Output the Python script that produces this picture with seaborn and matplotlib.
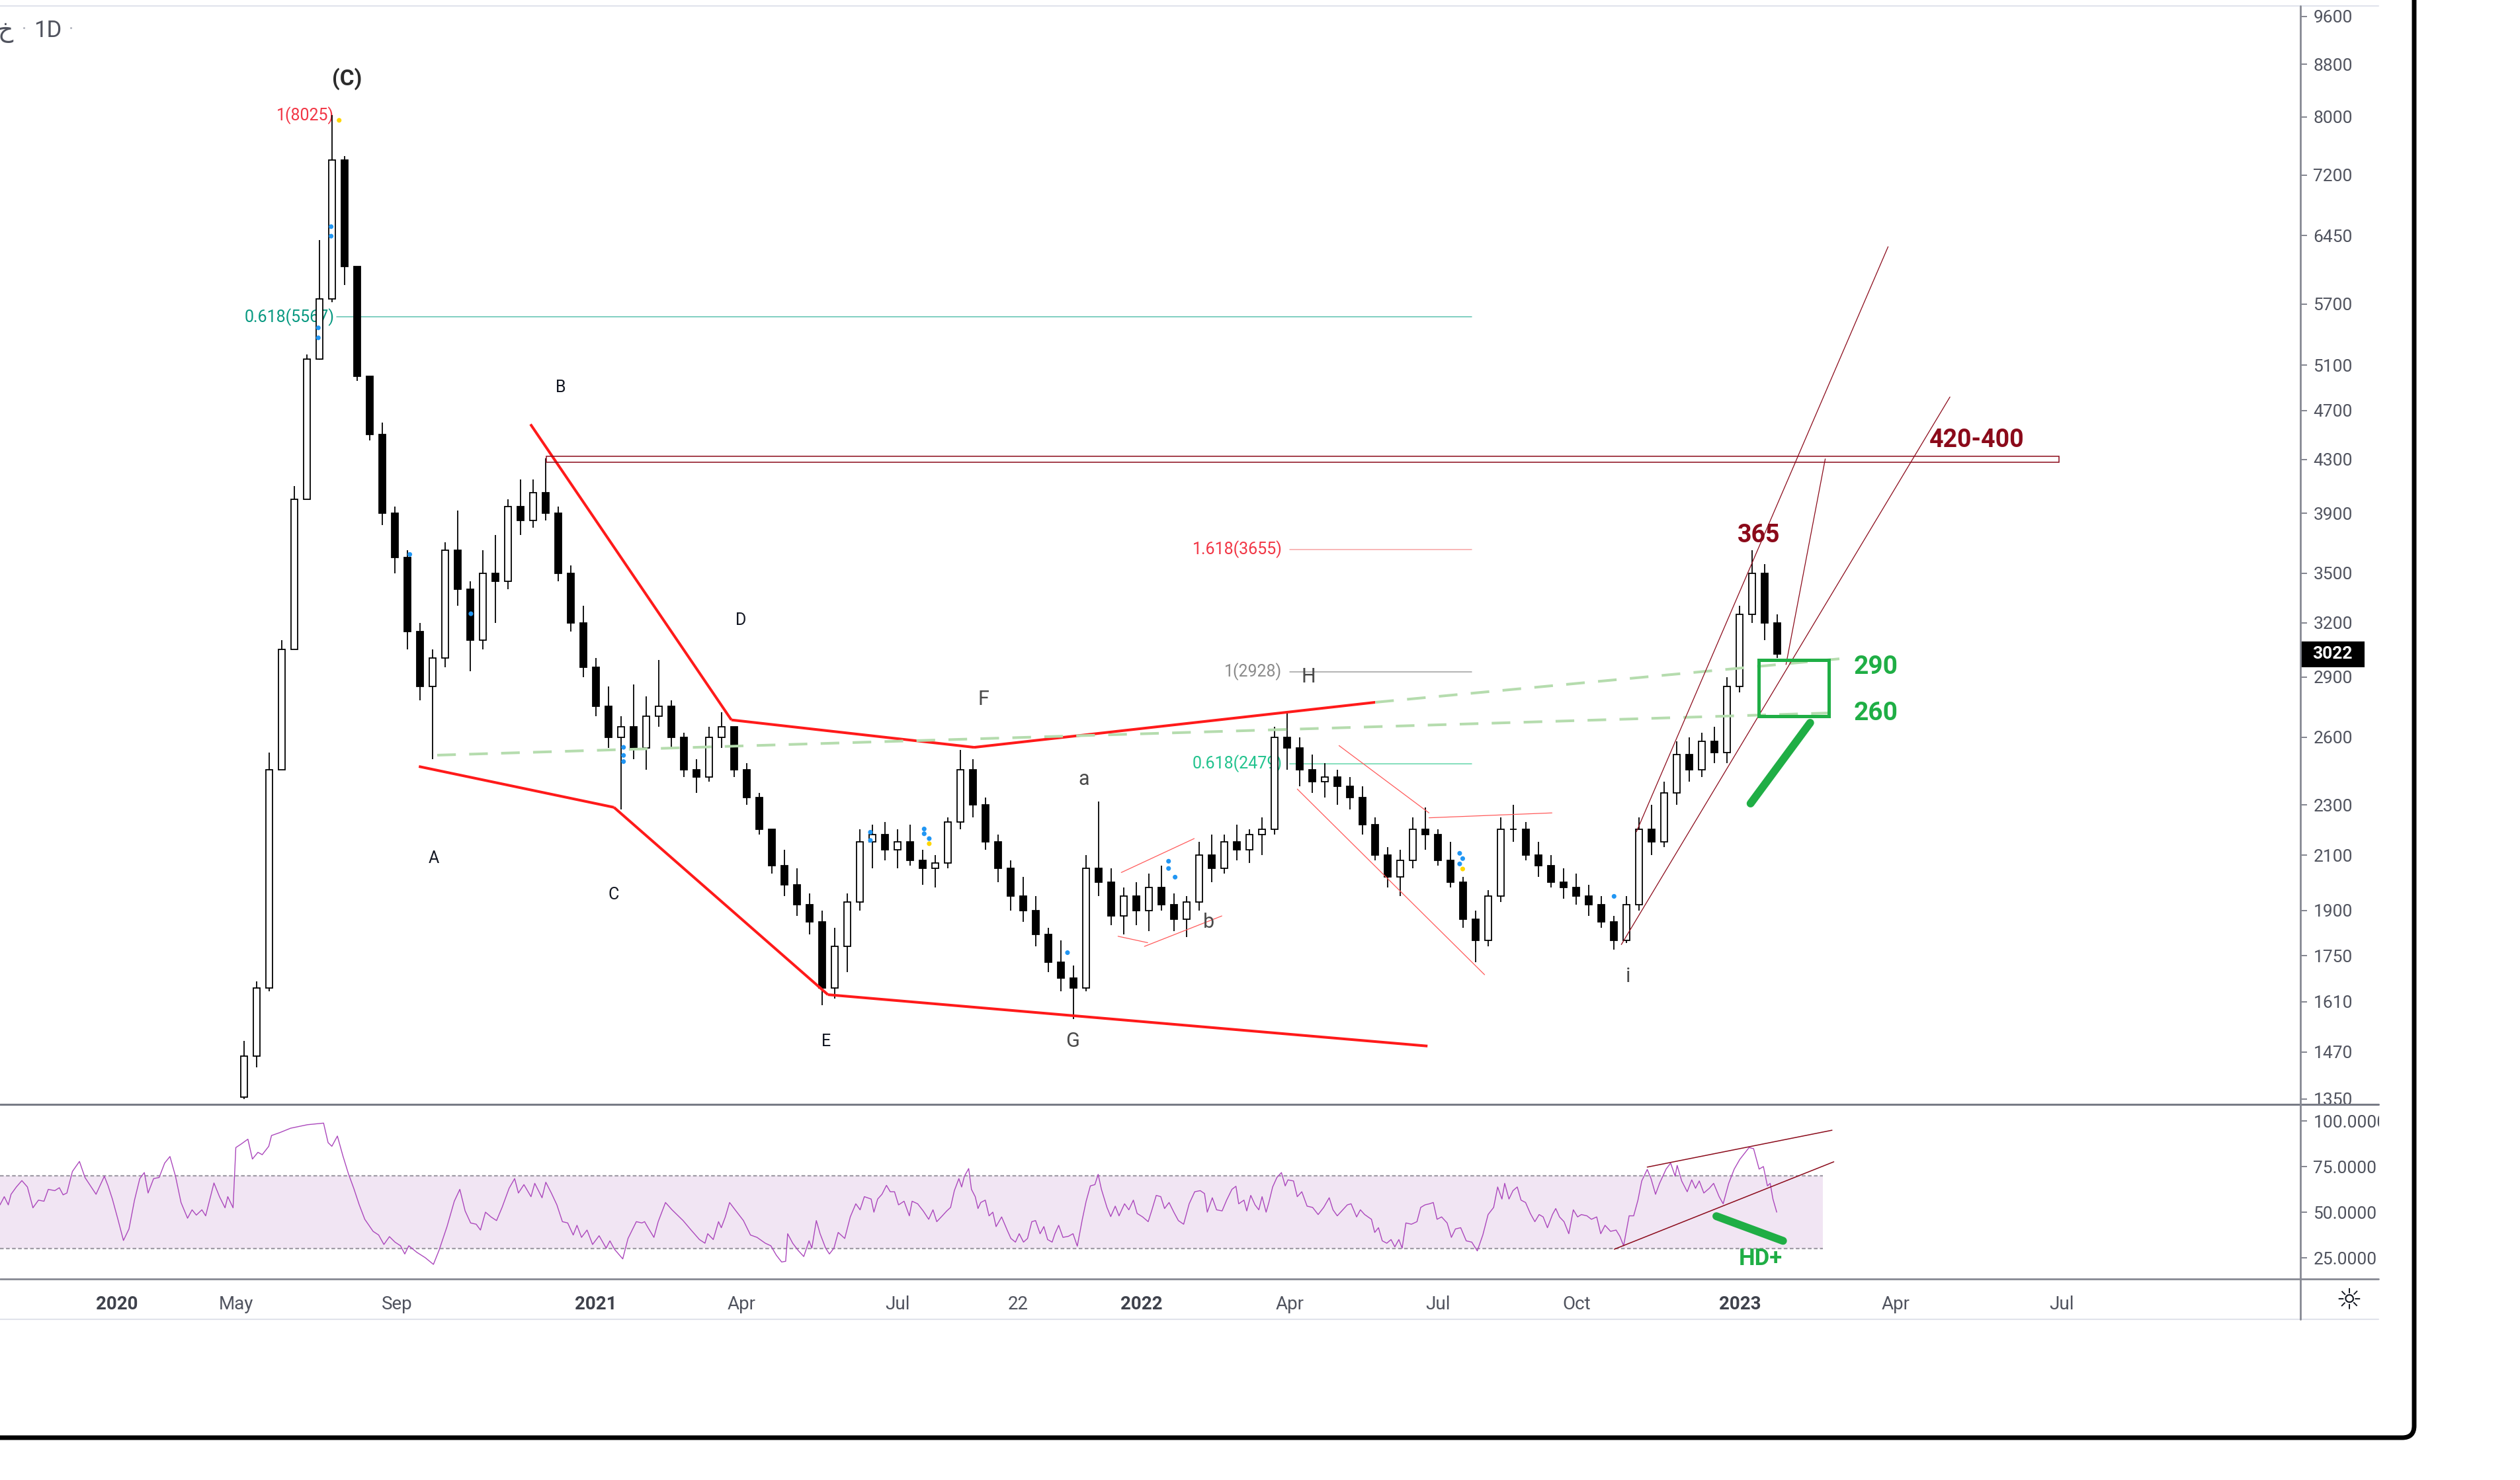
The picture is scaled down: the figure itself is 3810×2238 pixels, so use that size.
import matplotlib
matplotlib.use("Agg")
import matplotlib.pyplot as plt
from matplotlib.patches import Rectangle, FancyBboxPatch
from matplotlib.transforms import blended_transform_factory
import numpy as np
import pandas as pd
import seaborn as sns

sns.set_theme(style="white")
plt.rcParams['font.family'] = ['Roboto', 'DejaVu Sans']

# ---------------- data ----------------
# weekly candles (5 trading bars each), first one at bar 97
first_bar = 97
opens = [1355, 1460, 1650, 2450, 3050, 4000, 5160, 5750, 7400, 6100,
         5000, 4500, 3900, 3600, 3150, 2850, 3000, 3650, 3400, 3100,
         3500, 3450, 3950, 3850, 4050, 3900, 3500, 3200, 2950, 2750,
         2600, 2650, 2550, 2700, 2750, 2600, 2450, 2420, 2600, 2650,
         2450, 2330, 2200, 2060, 1990, 1920, 1860, 1650, 1780, 1930,
         2150, 2180, 2120, 2150, 2080, 2050, 2070, 2230, 2450, 2300,
         2150, 2050, 1950, 1900, 1820, 1730, 1680, 1650, 2050, 2000,
         1880, 1950, 1900, 1980, 1920, 1870, 1930, 2100, 2050, 2150,
         2120, 2180, 2200, 2600, 2550, 2450, 2400, 2420, 2380, 2330,
         2220, 2100, 2020, 2080, 2200, 2180, 2080, 2000, 1870, 1800,
         1950, 2200, 2200, 2100, 2060, 2000, 1980, 1950, 1920, 1860,
         1800, 1920, 2200, 2150, 2350, 2520, 2450, 2580, 2530, 2850,
         3250, 3500, 3200]
highs = [1500, 1670, 2530, 3100, 4100, 5200, 6400, 8025, 7450, 6000,
         5000, 4600, 3950, 3650, 3200, 3050, 3700, 3920, 3450, 3650,
         3750, 4000, 4150, 4150, 4310, 3950, 3550, 3300, 3000, 2850,
         2700, 2860, 2800, 2990, 2780, 2620, 2500, 2650, 2720, 2650,
         2480, 2350, 2200, 2120, 2050, 1960, 1900, 1840, 1960, 2200,
         2220, 2230, 2200, 2220, 2120, 2100, 2250, 2540, 2500, 2330,
         2180, 2080, 2020, 1950, 1840, 1800, 1720, 2100, 2315, 2050,
         1980, 2000, 2030, 2060, 1960, 1950, 2150, 2180, 2180, 2220,
         2200, 2250, 2650, 2720, 2600, 2520, 2480, 2450, 2420, 2380,
         2250, 2130, 2120, 2250, 2290, 2200, 2150, 2020, 1900, 1970,
         2250, 2300, 2230, 2150, 2100, 2050, 2030, 1990, 1950, 1880,
         1950, 2250, 2300, 2400, 2580, 2600, 2620, 2650, 2900, 3300,
         3650, 3560, 3250]
lows = [1350, 1430, 1640, 2450, 3050, 4000, 5150, 5720, 5900, 4960,
        4450, 3820, 3500, 3050, 2780, 2500, 2950, 3300, 2930, 3050,
        3200, 3400, 3750, 3800, 3850, 3450, 3150, 2900, 2700, 2550,
        2280, 2500, 2450, 2650, 2550, 2420, 2350, 2400, 2550, 2420,
        2300, 2180, 2030, 1950, 1880, 1820, 1600, 1620, 1700, 1900,
        2050, 2080, 2050, 2060, 1990, 1980, 2050, 2200, 2250, 2120,
        2000, 1900, 1860, 1780, 1700, 1640, 1560, 1640, 1950, 1850,
        1820, 1850, 1830, 1900, 1830, 1810, 1900, 2000, 2030, 2080,
        2070, 2100, 2180, 2450, 2380, 2350, 2330, 2300, 2280, 2180,
        2080, 1980, 1950, 2050, 2120, 2060, 1980, 1840, 1730, 1780,
        1930, 2150, 2080, 2020, 1980, 1940, 1920, 1880, 1840, 1770,
        1790, 1900, 2100, 2130, 2300, 2400, 2420, 2480, 2480, 2820,
        3200, 3100, 3000]
closes = [1460, 1650, 2450, 3050, 4000, 5160, 5750, 7400, 6100, 5000,
          4500, 3900, 3600, 3150, 2850, 3000, 3650, 3400, 3100, 3500,
          3450, 3950, 3850, 4050, 3900, 3500, 3200, 2950, 2750, 2600,
          2650, 2550, 2700, 2750, 2600, 2450, 2420, 2600, 2650, 2450,
          2330, 2200, 2060, 1990, 1920, 1860, 1650, 1780, 1930, 2150,
          2180, 2120, 2150, 2080, 2050, 2070, 2230, 2450, 2300, 2150,
          2050, 1950, 1900, 1820, 1730, 1680, 1650, 2050, 2000, 1880,
          1950, 1900, 1980, 1920, 1870, 1930, 2100, 2050, 2150, 2120,
          2180, 2200, 2600, 2550, 2450, 2400, 2420, 2380, 2330, 2220,
          2100, 2020, 2080, 2200, 2180, 2080, 2000, 1870, 1800, 1950,
          2200, 2200, 2100, 2060, 2000, 1980, 1950, 1920, 1860, 1800,
          1920, 2200, 2150, 2350, 2520, 2450, 2580, 2530, 2850, 3250,
          3500, 3200, 3022]
last_price = 3022

rsi_bar = [0, 1.7, 3.3, 4.4, 6.5, 8.7, 10.9, 13.1, 15.3, 17.5, 19.2, 21.8, 23.6, 25.1, 26.6,
           28.8, 31.6, 33.8, 36, 38.2, 41.5, 43, 44.7, 46.9, 49.1, 51.3, 53.5, 55.6, 57.4,
           58.9, 61.1, 63.3, 65.5, 67.6, 69.8, 72, 74.6, 76.4, 78.1, 80.3, 81.8, 85.1, 87.3,
           89.5, 90.6, 92.7, 93.8, 96, 98.6, 100.4, 102.6, 104.3, 106.9, 108, 111.3, 115.6,
           122.2, 128.7, 130.5, 132, 134.2, 136.4, 138.6, 140.7, 142.9, 145.1, 148.4, 150.6,
           152.7, 154.9, 157.1, 159.3, 161, 162.6, 165.8, 169.1, 172.4, 174.6, 177.8, 180.7,
           182.9, 185, 187.2, 189.4, 191.1, 193.1, 195.3, 197.5, 199.7, 202.5, 204.7, 206.2,
           208.4, 211.2, 212.7, 215.6, 217.1, 219.3, 221.5, 223.7, 225.8, 228, 229.5, 231.3,
           233.5, 235.7, 238.3, 241.1, 242.6, 244.4, 247.7, 249.8, 253.1, 255.3, 256.4, 257.5,
           260.1, 261.8, 264.7, 267.3, 271.7, 274.9, 278.2, 280.4, 281.5, 283.7, 285.8, 286.9,
           288.5, 290.2, 292.4, 295.7, 298.5, 301.1, 304.4, 306.6, 308.8, 310.9, 312.5, 313.3,
           315.3, 317.5, 319.7, 321.8, 322.9, 324.7, 326.2, 328.4, 329.9, 331.7, 333.4, 336,
           338.2, 340.4, 342.1, 343.8, 346.5, 347.6, 349.1, 350.8, 352.6, 354.1, 355.8, 357.4,
           359.6, 361.7, 362.8, 365, 367.2, 369.4, 371.1, 372.6, 374.8, 376.6, 378.1, 379.6,
           381.4, 382.5, 383.6, 385.3, 386.4, 387.9, 389, 390.1, 391.9, 393.4, 394.9, 396.2,
           398.4, 400.6, 402.1, 403.9, 405.4, 407.1, 408.7, 410.4, 411.9, 413.7, 415.2, 416.7,
           418.5, 419.6, 421.1, 422.8, 425, 426.8, 428.5, 430.5, 432, 433.7, 435.5, 436.8,
           438.1, 440.3, 441.8, 443.6, 445.1, 447.3, 449, 450.8, 452.3, 454.5, 456.7, 458.2,
           459.9, 461.7, 463.2, 465, 466.9, 468.7, 470.8, 473, 475.2, 477.4, 479.1, 480.2,
           482.2, 483.9, 486.1, 487.9, 490, 491.6, 492.7, 494.8, 495.9, 497.5, 499.2, 500.7,
           502, 503.6, 504.7, 506.2, 507.9, 509.7, 511.2, 512.3, 514.5, 516, 517.8, 519.9,
           522.1, 524.3, 526.5, 528.7, 530.2, 531.9, 534.1, 535.9, 537.4, 539.6, 541.1, 542.8,
           545.5, 546.8, 548.3, 549.8, 551.6, 553.3, 554.8, 556.4, 557.7, 559.2, 561.4, 563.6,
           565.1, 566.8, 568.6, 570.1, 571.6, 573.4, 575.6, 577.3, 578.9, 581, 583.2, 585.4,
           587.6, 589.8, 591.9, 594.1, 595.7, 597.4, 598.5, 600.2, 601.8, 603.5, 605, 606.8,
           608.7, 610.5, 612.2, 613.8, 615.5, 617.5, 618.8, 620.3, 622.1, 624, 625.8, 627.5,
           629, 631.2, 633, 635.1, 636.7, 638.4, 640.6, 642.8, 644.3, 645.8, 648, 649.8,
           651.5, 653, 655.2, 656.7, 658.5, 660.1, 662.7, 664.5, 666.3, 667.1, 668.9, 671.1,
           672.9, 674.4, 675.9, 677.7, 679.9, 681.6, 683.8, 685.4, 687.6, 689.8, 692, 694.2,
           695.7, 697.5, 699.7, 701.4, 703, 704.1, 705.2, 706.7]
rsi_val = [54, 58.5, 54, 59.8, 63.8, 67.3, 63.8, 52.4, 56.6, 56, 62.5, 61.8, 63.4, 59.5, 60.5,
           72.3, 77.8, 69, 64.4, 59.8, 69.7, 64.4, 57.2, 46.1, 34.5, 40.8, 56.6, 68.4, 71.7,
           60.5, 68.4, 69, 76.9, 80.5, 69.7, 55.3, 46.7, 51.3, 48.4, 51.3, 48, 66, 58.5,
           52.4, 58.5, 52.4, 85.4, 87.4, 90, 79.1, 82.8, 81.5, 86.1, 92, 93.6, 96,
           97.9, 98.8, 88.1, 86.1, 91.7, 80.8, 71, 63.1, 54, 46.1, 39.5, 37.5,
           32.3, 36.6, 33.6, 31.6, 27.1, 31.6, 28, 25.1, 21.4, 29, 42.1, 56,
           62.5, 50.7, 44.1, 43.4, 40.2, 50, 47.4, 45.4, 52.6, 63.1, 68.4, 60.5,
           65.1, 58.5, 65.8, 57.9, 66.4, 60.5, 54, 44.8, 44.1, 37.5, 42.8, 36.2,
           40.2, 32.3, 37.1, 30.3, 34.3, 29.7, 24.4, 35.6, 44.8, 44.1, 44.8, 42.1,
           36.2, 44.8, 55.3, 51.3, 45.4, 40.2, 35, 33, 38.2, 35, 44.8, 41.5,
           47.4, 55.3, 51.3, 45.4, 37.5, 36.2, 33, 31.6, 26.4, 22.7, 23.1, 38.2,
           33, 29, 25.7, 34.3, 30.3, 45.4, 38.2, 30.3, 27.1, 30.3, 38.9, 35.6,
           47.4, 54.6, 51.3, 58.5, 57.2, 50, 57.2, 59.8, 64.7, 61.2, 61.2, 54,
           56, 48, 56, 54.6, 50.7, 46.1, 51.3, 44.8, 48, 50.7, 52.6, 61.8,
           68.4, 63.8, 69.7, 73.9, 62.5, 58.5, 52, 55.3, 56.6, 48, 50, 42.1,
           47.4, 40.2, 35.6, 33.6, 38.2, 33.6, 35.6, 44.8, 45.4, 38.2, 42.1, 35,
           33.6, 38.2, 42.8, 36.2, 36.8, 38.2, 31.4, 46.1, 55.9, 64.4, 65.1, 70.7,
           62.5, 52.6, 47.6, 53.3, 48, 54.6, 51.3, 56.6, 49.3, 47.4, 44.8, 51.3,
           59.2, 58.5, 52, 55.3, 50, 45.4, 43.4, 54.6, 61.2, 61.8, 60.2, 50,
           57.9, 51.3, 50.7, 56.6, 62.5, 64.2, 54.6, 56.6, 50.7, 59.2, 54, 51.3,
           58.5, 50, 55.3, 63.8, 69, 71.7, 64.4, 67.7, 67.1, 58.5, 61.2, 53.3,
           52.6, 48.7, 52.6, 57.9, 51.3, 48, 51.3, 54, 54.6, 47.4, 51.3, 48.7,
           46.1, 38.9, 41.5, 34.3, 33, 35, 31, 35, 30.3, 44.1, 43.4, 44.8,
           52.6, 54, 54.6, 55.3, 46.1, 47.4, 44.1, 36.2, 40.8, 41.5, 34.3, 33.6,
           28.8, 37.5, 48.7, 52.6, 63.8, 57.2, 65.8, 57.2, 61.8, 63.8, 56.6, 55.3,
           49.3, 44.8, 48.7, 47.4, 41.5, 48.7, 52, 47.4, 44.8, 38.2, 51.3, 47.4,
           48.7, 48, 46.1, 47.4, 38.2, 42.8, 39.5, 40.2, 36.8, 31.6, 48, 48,
           56.6, 67.1, 73.4, 68.4, 59.8, 65.8, 73.6, 76.9, 69.7, 75.6, 67.1, 61.2,
           67.7, 63.1, 67.1, 60.5, 63.1, 65.8, 58.5, 54.6, 65.8, 73.6, 78.9, 82.8,
           85.4, 84.8, 73.6, 75, 64.4, 65.8, 57.2, 50]

# indicator dots (bar, price)
blue_bar = [131.7, 131.7, 126.6, 126.6, 163, 187.3, 248, 248, 248, 346.2, 346.2,
            367.6, 367.6, 369.6, 424.6, 464.8, 464.8, 467.4, 580.6, 581.8, 580.6, 642]
blue_price = [6557, 6445, 5459, 5361, 3621, 3252, 2553, 2516, 2488, 2189, 2157,
              2202, 2183, 2164, 1760, 2077, 2050, 2018, 2107, 2087, 2067, 1949]
yellow_bar = [134.9, 369.6, 581.8]
yellow_price = [7950, 2144, 2048]

# drawings (bar, price) end points
wedge = [((211, 4584), (290.9, 2683)), ((290.9, 2683), (387.5, 2553)),
         ((387.5, 2553), (547, 2770)), ((166.6, 2466), (244.2, 2290)),
         ((244.2, 2290), (329.3, 1631)), ((329.3, 1631), (567.8, 1486))]
dashed = [((173.9, 2517), (733, 2719)), ((547, 2770), (734.7, 3001))]
channel = [((650.9, 2191), (751, 6323)), ((644.9, 1786), (775.6, 4816)),
           ((710.4, 2966), (726, 4305))]
thin_red = [((532.6, 2561), (568.4, 2267)), ((516, 2367), (590.5, 1691)),
            ((568.4, 2247), (617.3, 2267)), ((446, 2035), (475, 2164)),
            ((455.2, 1780), (486, 1881)), ((444.7, 1813), (456.5, 1792))]
fib = [("1(8025)", 133, 8025, None, '#f23645', None),
       ("0.618(5567)", 133, 5567, (134, 585.4), '#089981', '#5cc2b0'),
       ("1.618(3655)", 510, 3655, (513, 585.4), '#f23645', '#f7a3a3'),
       ("1(2928)", 510, 2928, (513, 585.4), '#8a8a8a', '#9e9e9e'),
       ("0.618(2479)", 510, 2479, (513, 585.4), '#22c38e', '#62d6aa')]
wave_small = [("B", 223, 4902), ("A", 172.6, 2089), ("C", 244, 1954),
              ("D", 294.8, 3214), ("E", 328.6, 1499)]
wave_big = [("F", 391.3, 2785), ("G", 426.5, 1499), ("H", 520.5, 2902),
            ("a", 431, 2409), ("b", 480.8, 1860), ("i", 647.7, 1685)]

price_ticks = [9600, 8800, 8000, 7200, 6450, 5700, 5100, 4700, 4300, 3900, 3500,
               3200, 2900, 2600, 2300, 2100, 1900, 1750, 1610, 1470, 1350]
rsi_ticks = [100, 75, 50, 25]
time_ticks = [46.6, 94, 158, 237, 295, 357, 405, 454, 513, 572, 627, 692, 754, 820]
time_labels = ['2020', 'May', 'Sep', '2021', 'Apr', 'Jul', '22', '2022', 'Apr',
               'Jul', 'Oct', '2023', 'Apr', 'Jul']

# ---------------- figure ----------------
W, H = 3810, 2238
fig = plt.figure(figsize=(W / 100, H / 100), dpi=100)
fig.patch.set_facecolor('white')

ax = fig.add_axes([0, (H - 1670) / H, 3478 / W, 1661 / H])
rax = fig.add_axes([0, (H - 1934) / H, 3478 / W, 264 / H])
GRAY = '#50535e'
RED = '#ff1a1a'
MAROON = '#8b0a1a'
GREEN = '#1fae45'

# candles
df = pd.DataFrame(dict(o=opens, h=highs, l=lows, c=closes))
df['bar'] = first_bar + 5 * df.index
up = df[df.c >= df.o]
dn = df[df.c < df.o]
ax.vlines(df.bar, df.l, df.h, color='black', lw=1.3, zorder=3)
ax.bar(up.bar, up.c - up.o, bottom=up.o, width=2.6, facecolor='white',
       edgecolor='black', lw=1.3, zorder=4)
ax.bar(dn.bar, dn.o - dn.c, bottom=dn.c, width=2.6, facecolor='black',
       edgecolor='black', lw=1.3, zorder=4)

sns.scatterplot(x=blue_bar, y=blue_price, ax=ax, color='#2196f3', s=26,
                edgecolor='none', zorder=6, legend=False)
sns.scatterplot(x=yellow_bar, y=yellow_price, ax=ax, color='#ffd600', s=26,
                edgecolor='none', zorder=6, legend=False)

for (x0, y0), (x1, y1) in wedge:
    ax.plot([x0, x1], [y0, y1], color=RED, lw=2.9, zorder=5, solid_capstyle='butt')
for (x0, y0), (x1, y1) in dashed:
    ax.plot([x0, x1], [y0, y1], color='#b5dcae', lw=2.9, dashes=(7, 5), zorder=5)
for (x0, y0), (x1, y1) in channel:
    ax.plot([x0, x1], [y0, y1], color=MAROON, lw=0.9, zorder=5)
for (x0, y0), (x1, y1) in thin_red:
    ax.plot([x0, x1], [y0, y1], color='#ff5a5a', lw=0.9, zorder=5)

for label, xr, yv, span, tcol, lcol in fib:
    ax.text(xr, yv, label, ha='right', va='center', color=tcol, fontsize=18, zorder=2)
    if span:
        ax.plot(span, [yv, yv], color=lcol, lw=1.1, zorder=1)

for label, xb, yp in wave_small:
    ax.text(xb, yp, label, ha='center', va='center', color='#131722', fontsize=18, zorder=6)
for label, xb, yp in wave_big:
    ax.text(xb, yp, label, ha='center', va='center', color='#4a4a4a', fontsize=22, zorder=6)
ax.text(138, 8570, "(C)", ha='center', va='center', color='#2b2b2b', fontsize=24,
        fontweight='bold', zorder=6)

# target levels
ax.add_patch(Rectangle((217.4, 4280), 819 - 217.4, 43, fill=False, ec=MAROON, lw=1.1, zorder=5))
ax.add_patch(Rectangle((699.5, 2700), 27.8, 291, fill=False, ec=GREEN, lw=3.6, zorder=6))
ax.plot([696.3, 720], [2306, 2669], color=GREEN, lw=8.6, solid_capstyle='round', zorder=6)
ax.text(699.5, 3750, "365", ha='center', va='center', color=MAROON, fontsize=27,
        fontweight='bold', zorder=6)
ax.text(786.4, 4452, "420-400", ha='center', va='center', color=MAROON, fontsize=27,
        fontweight='bold', zorder=6)
ax.text(746.2, 2955, "290", ha='center', va='center', color=GREEN, fontsize=28,
        fontweight='bold', zorder=6)
ax.text(746.2, 2715, "260", ha='center', va='center', color=GREEN, fontsize=28,
        fontweight='bold', zorder=6)

ax.set_yscale('log')
ax.set_xlim(0, 915)
ax.set_ylim(1337, 9780)
ax.yaxis.set_minor_locator(plt.NullLocator())
ax.set_yticks(price_ticks)
ax.set_yticklabels([str(t) for t in price_ticks])
ax.yaxis.tick_right()
ax.set_xticks([])
ax.tick_params(axis='y', which='major', direction='out', length=7, width=1.3,
               color='#787b86', labelsize=19, labelcolor=GRAY, pad=7)
for s in ax.spines.values():
    s.set_visible(False)
ax.set_xlabel('')
ax.set_ylabel('')

# last price tag
tr = blended_transform_factory(ax.transAxes, ax.transData)
half = 19.5 / 834.7
ax.add_patch(Rectangle((1.0, last_price * np.exp(-half)), 97 / 3478,
                       last_price * (np.exp(half) - np.exp(-half)), transform=tr,
                       fc='black', ec='none', clip_on=False, zorder=10))
ax.text(1.0 + 48 / 3478, last_price, str(last_price), transform=tr, ha='center',
        va='center', color='white', fontsize=19, fontweight='bold', zorder=11)

# RSI pane
rsi_df = pd.DataFrame({'bar': rsi_bar, 'rsi': rsi_val})
rax.fill_between([0, 725], 30, 70, color='#f1e5f3', lw=0, zorder=1)
rax.hlines([30, 70], 0, 725, colors='#a09ca6', linestyles=(0, (2.5, 1.6)), lw=1.6, zorder=2)
sns.lineplot(data=rsi_df, x='bar', y='rsi', ax=rax, color='#ab47bc', lw=1.0,
             estimator=None, sort=False, zorder=3)
rax.plot([655.2, 728.7], [74.7, 94.9], color=MAROON, lw=1.1, zorder=4)
rax.plot([642.1, 729.4], [29.7, 77.6], color=MAROON, lw=1.1, zorder=4)
rax.plot([682.7, 709.2], [47.8, 34.3], color=GREEN, lw=8.6, solid_capstyle='round', zorder=5)
rax.text(700.3, 24.4, "HD+", ha='center', va='center', color=GREEN, fontsize=25,
         fontweight='bold', zorder=6)
rax.set_xlim(0, 915)
rax.set_ylim(13.41, 109.06)
rax.yaxis.tick_right()
rax.set_yticks(rsi_ticks)
rax.set_yticklabels([f"{t:.4f}" for t in rsi_ticks])
rax.set_xticks(time_ticks)
rax.set_xticklabels(time_labels)
rax.tick_params(axis='y', direction='out', length=7, width=1.3, color='#787b86',
                labelsize=19, labelcolor=GRAY, pad=7)
rax.tick_params(axis='x', direction='out', length=5, width=1.3, color='#787b86',
                labelsize=20, labelcolor=GRAY, pad=13)
for lab in rax.get_xticklabels():
    if lab.get_text().isdigit() and len(lab.get_text()) == 4:
        lab.set_fontweight('bold')
        lab.set_color('#3f424c')
for s in rax.spines.values():
    s.set_visible(False)
rax.set_xlabel('')
rax.set_ylabel('')

# chrome: pane borders, axis lines, screenshot frame
ov = fig.add_axes([0, 0, 1, 1], zorder=20)
ov.set_xlim(0, W)
ov.set_ylim(H, 0)
ov.axis('off')
ov.plot([0, 3596], [9, 9], color='#e0e3eb', lw=1.5)
ov.plot([0, 3596], [1670, 1670], color='#787b86', lw=2.2)
ov.plot([0, 3596], [1934, 1934], color='#868993', lw=2.0)
ov.plot([0, 3596], [1995, 1995], color='#e0e3eb', lw=1.5)
ov.plot([3478, 3478], [9, 1995], color='#868993', lw=2.0)
ov.add_patch(Rectangle((3597, 1672), 45, 260, fc='white', ec='none'))
ov.add_patch(FancyBboxPatch((-60, -60), 3710, 2234, boxstyle='round,pad=0,rounding_size=18',
                            fill=False, ec='black', lw=5))
ov.text(3551, 1967, '☼', ha='center', va='center', fontsize=32, color='#131722',
        family=['DejaVu Sans'])
ov.text(20, 47, 'خ', ha='right', va='center', fontsize=26, color=GRAY)
ov.text(37, 44, '·', ha='center', va='center', fontsize=20, color='#b2b5be')
ov.text(51, 47, '1D', ha='left', va='center', fontsize=25, color=GRAY)
ov.text(108, 44, '·', ha='center', va='center', fontsize=20, color='#b2b5be')

fig.savefig('out.png', dpi=100)
